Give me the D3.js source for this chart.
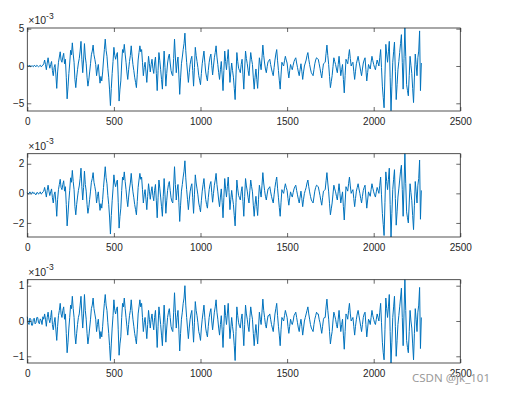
<!DOCTYPE html>
<html>
<head>
<meta charset="utf-8">
<script src="https://cdn.jsdelivr.net/npm/d3@7"></script>
<style>
  body { margin: 0; background: #fff; }
  svg { display: block; font-family: "Liberation Sans", Arial, sans-serif; }
  .tick text { fill: #262626; font-size: 10px; }
  .tick line { stroke: #262626; stroke-width: 0.7; }
</style>
</head>
<body>
<div id="chart"></div>
<script>
// samples read every 5 points off the picture, values in units of 1e-3
const sampleStep = 5

const seriesTop = [
  0.1, 0.0, 0.0, 0.1, -0.1, 0.0, 0.0, -0.1, 0.1, 0.0, -0.1, 0.1, 0.0, -0.1, 0.0, 0.1, -0.1, 0.0, 0.1, 0.3,
  0.8, 0.2, -0.5, 0.4, 1.1, 0.3, -0.3, 0.2, 0.6, -0.6, -1.3, -0.2, 0.2, -1.2, -3.0, -0.8, 0.5, 1.2, 1.9, 0.8,
  0.5, 1.2, 1.7, 0.3, 0.9, -1.5, -4.4, -2.8, -1.0, 0.4, 2.1, 1.5, 3.1, 1.6, 0.5, -1.8, -2.9, -1.5, -0.5, 0.4,
  1.0, 2.0, 3.3, 0.9, -0.9, 0.8, 3.0, 1.2, 0.3, -1.5, -2.7, -1.9, -0.8, 0.3, 1.5, 2.0, 2.8, 1.5, 0.9, 0.2,
  -1.3, -0.4, 0.2, -1.2, -2.3, -1.4, -2.0, -0.8, 0.8, 2.2, 3.6, 2.1, 1.3, -0.3, -1.5, -3.2, -5.3, -3.0, -1.0, 0.6,
  2.5, 1.4, 0.9, 1.5, 1.8, -1.2, -4.7, -3.1, -2.0, 0.4, 2.2, 1.8, 2.9, 1.6, 0.5, -0.8, -1.8, -0.5, 0.6, 1.4,
  2.7, 1.3, 0.2, -0.6, -1.5, -2.2, -2.9, -1.1, 0.8, 1.8, 2.7, 1.9, 2.2, 0.5, -1.3, -0.2, 0.5, -0.8, -2.2, -0.4,
  1.3, 0.3, -0.8, 0.2, 0.9, -0.3, -1.0, 0.4, 1.2, -1.0, -3.3, -0.6, 1.8, 0.7, -0.5, -1.8, -3.1, -0.4, 2.0, -0.2,
  -2.7, -1.0, 0.4, 1.2, 1.6, 0.4, -0.6, -1.1, -1.3, 1.0, 3.6, 1.2, -0.9, 0.4, 1.2, -1.2, -3.8, -1.6, 0.3, 1.2,
  2.2, 3.0, 4.4, 2.1, 0.5, -0.8, -2.2, -0.9, 0.2, 0.9, 1.3, -0.6, -2.7, -0.2, 2.5, 1.4, 0.6, -0.2, -1.3, -1.9,
  -2.5, -1.0, 0.3, 1.2, 2.0, 0.5, -0.8, -1.5, -2.0, -0.6, 0.5, 1.2, 1.6, 0.1, -1.2, 0.0, 1.1, 1.8, 2.7, 1.2,
  0.2, -0.9, -1.8, -0.5, 0.6, -1.2, -3.3, -0.6, 2.0, 0.6, -0.5, 0.9, 2.2, 0.1, -2.2, -0.8, 0.4, -0.6, -1.5, -3.0,
  -4.5, -1.2, 1.8, 0.6, -0.3, -0.6, -0.9, 0.2, 0.9, -1.1, -3.1, -0.4, 2.0, 1.0, 0.3, -0.6, -1.3, 0.4, 1.8, 0.9,
  0.2, -1.6, -3.1, -1.5, -0.4, -1.8, -3.0, -0.8, 1.1, 0.3, -0.5, 1.1, 2.8, 1.4, 0.4, -0.4, -0.9, -0.1, 0.6, 0.7,
  0.9, 0.2, -0.4, -0.9, -1.3, -0.2, 0.8, 1.6, 2.2, 0.7, -0.6, -1.9, -3.1, -1.2, 0.5, 0.2, 0.0, 0.7, 1.3, 0.8,
  0.4, -0.7, -1.6, -0.6, 0.2, -0.2, -0.5, 0.1, 0.6, 0.9, 1.1, 0.4, -0.2, -0.8, -1.3, -0.5, 0.3, -0.7, -1.8, -0.8,
  0.0, 0.4, 0.8, 1.4, 1.8, 0.9, 0.2, -0.4, -0.9, -1.1, -1.3, -0.5, 0.3, 0.8, 1.1, 1.0, 0.9, 0.3, -0.3, -1.0,
  -1.6, -0.6, 0.3, 0.4, 0.5, 1.7, 2.8, 1.4, 0.2, -1.4, -2.9, -2.1, -1.3, -0.1, 1.1, 0.6, 0.2, -0.4, -0.9, 0.2,
  1.3, 0.0, -1.3, -0.5, 0.2, -1.8, -3.6, -1.3, 0.9, 0.6, 0.3, 1.3, 2.2, 1.0, 0.0, 0.3, 0.5, -0.7, -1.8, -0.7,
  0.3, 0.8, 1.3, 0.6, 0.0, -0.7, -1.3, -0.4, 0.4, 0.8, 1.1, -0.5, -2.0, -0.9, 0.2, -0.1, -0.4, 0.5, 1.3, 0.7,
  0.2, -0.2, -0.5, 0.2, 0.8, 0.4, 0.0, 1.1, 2.2, -0.2, -2.7, -4.2, -5.6, -1.2, 2.9, 1.6, 0.5, 1.9, 3.3, -1.5,
  -6.0, -2.7, 0.5, 1.9, 3.2, -0.7, -4.5, -2.5, -0.5, 0.6, 1.8, 3.0, 4.2, 0.5, -3.1, 1.0, 5.1, 1.3, -2.5, -3.3,
  -4.0, -1.3, 1.3, 0.1, -1.0, -3.0, -4.9, -1.6, 1.6, 0.2, -1.3, 1.1, 2.0, 4.7, -3.3, 0.4
]

const seriesMid = [
  0.05, -0.05, 0.0, 0.1, 0.0, -0.05, 0.1, 0.0, 0.05, -0.05, -0.1, 0.05, 0.05, -0.05, 0.0, 0.1, -0.05, 0.0, 0.1, 0.15,
  0.4, 0.1, -0.25, 0.2, 0.55, 0.15, -0.15, 0.1, 0.3, -0.3, -0.65, -0.1, 0.1, -0.6, -1.55, -0.4, 0.25, 0.6, 0.95, 0.4,
  0.25, 0.6, 0.85, 0.15, 0.45, -0.75, -2.2, -1.4, -0.5, 0.2, 1.05, 0.75, 1.55, 0.8, 0.25, -0.9, -1.45, -0.75, -0.25, 0.2,
  0.5, 1.0, 1.7, 0.45, -0.45, 0.4, 1.5, 0.6, 0.15, -0.75, -1.35, -0.95, -0.4, 0.15, 0.75, 1.0, 1.4, 0.75, 0.45, 0.1,
  -0.65, -0.2, 0.1, -0.6, -1.15, -0.7, -1.0, -0.4, 0.4, 1.1, 1.8, 1.05, 0.65, -0.15, -0.75, -1.6, -2.75, -1.5, -0.5, 0.3,
  1.25, 0.7, 0.45, 0.75, 0.9, -0.6, -2.35, -1.55, -1.0, 0.2, 1.1, 0.9, 1.45, 0.8, 0.25, -0.4, -0.9, -0.25, 0.3, 0.7,
  1.35, 0.65, 0.1, -0.3, -0.75, -1.1, -1.45, -0.55, 0.4, 0.9, 1.35, 0.95, 1.1, 0.25, -0.65, -0.1, 0.25, -0.4, -1.1, -0.2,
  0.65, 0.15, -0.4, 0.1, 0.45, -0.15, -0.5, 0.2, 0.6, -0.5, -1.65, -0.3, 0.9, 0.35, -0.25, -0.9, -1.55, -0.2, 1.0, -0.1,
  -1.35, -0.5, 0.2, 0.6, 0.8, 0.2, -0.3, -0.55, -0.65, 0.5, 1.8, 0.6, -0.45, 0.2, 0.6, -0.6, -1.9, -0.8, 0.15, 0.6,
  1.1, 1.5, 2.2, 1.05, 0.25, -0.4, -1.1, -0.45, 0.1, 0.45, 0.65, -0.3, -1.35, -0.1, 1.25, 0.7, 0.3, -0.1, -0.65, -0.95,
  -1.25, -0.5, 0.15, 0.6, 1.0, 0.25, -0.4, -0.75, -1.0, -0.3, 0.25, 0.6, 0.8, 0.05, -0.6, 0.0, 0.55, 0.9, 1.35, 0.6,
  0.1, -0.45, -0.9, -0.25, 0.3, -0.6, -1.65, -0.3, 1.0, 0.3, -0.25, 0.45, 1.1, 0.05, -1.1, -0.4, 0.2, -0.3, -0.75, -1.5,
  -2.2, -0.6, 0.9, 0.3, -0.15, -0.3, -0.45, 0.1, 0.45, -0.55, -1.55, -0.2, 1.0, 0.5, 0.15, -0.3, -0.65, 0.2, 0.9, 0.45,
  0.1, -0.8, -1.55, -0.75, -0.2, -0.9, -1.5, -0.4, 0.55, 0.15, -0.25, 0.55, 1.4, 0.7, 0.2, -0.2, -0.45, -0.05, 0.3, 0.35,
  0.45, 0.1, -0.2, -0.45, -0.65, -0.1, 0.4, 0.8, 1.1, 0.35, -0.3, -0.95, -1.55, -0.6, 0.25, 0.1, 0.0, 0.35, 0.65, 0.4,
  0.2, -0.35, -0.8, -0.3, 0.1, -0.1, -0.25, 0.05, 0.3, 0.45, 0.55, 0.2, -0.1, -0.4, -0.65, -0.25, 0.15, -0.35, -0.9, -0.4,
  0.0, 0.2, 0.4, 0.7, 0.9, 0.45, 0.1, -0.2, -0.45, -0.55, -0.65, -0.25, 0.15, 0.4, 0.55, 0.5, 0.45, 0.15, -0.15, -0.5,
  -0.8, -0.3, 0.15, 0.2, 0.25, 0.85, 1.4, 0.7, 0.1, -0.7, -1.45, -1.05, -0.65, -0.05, 0.55, 0.3, 0.1, -0.2, -0.45, 0.1,
  0.65, 0.0, -0.65, -0.25, 0.1, -0.9, -1.8, -0.65, 0.45, 0.3, 0.15, 0.65, 1.1, 0.5, 0.0, 0.15, 0.25, -0.35, -0.9, -0.35,
  0.15, 0.4, 0.65, 0.3, 0.0, -0.35, -0.65, -0.2, 0.2, 0.4, 0.55, -0.25, -1.0, -0.45, 0.1, -0.05, -0.2, 0.25, 0.65, 0.35,
  0.1, -0.1, -0.25, 0.1, 0.4, 0.2, 0.0, 0.55, 1.1, -0.1, -1.35, -2.1, -2.85, -0.6, 1.45, 0.8, 0.25, 0.95, 1.7, -0.75,
  -2.95, -1.35, 0.25, 0.95, 1.6, -0.35, -2.15, -1.25, -0.25, 0.3, 0.9, 1.5, 1.9, 0.25, -1.55, 0.5, 2.68, 0.65, -1.25, -1.65,
  -2.0, -0.65, 0.65, 0.05, -0.5, -1.5, -2.45, -0.8, 0.8, 0.1, -0.65, 0.55, 1.0, 2.25, -1.75, 0.2
]

const seriesLow = [
  0.12, -0.05, -0.1, 0.08, 0.05, -0.12, -0.12, 0.05, 0.08, -0.08, -0.05, 0.1, 0.1, -0.05, -0.08, 0.06, 0.02, -0.1, 0.12, 0.05,
  0.2, 0.05, -0.15, 0.1, 0.25, 0.05, -0.05, 0.1, 0.3, -0.1, -0.25, -0.05, 0.1, -0.25, -0.55, -0.15, 0.15, 0.3, 0.5, 0.2,
  0.1, 0.3, 0.4, 0.05, 0.2, -0.35, -0.9, -0.6, -0.2, 0.1, 0.45, 0.35, 0.7, 0.35, 0.1, -0.4, -0.65, -0.35, -0.1, 0.1,
  0.2, 0.45, 0.7, 0.2, -0.2, 0.2, 0.75, 0.3, 0.05, -0.35, -0.65, -0.45, -0.2, 0.05, 0.35, 0.45, 0.65, 0.35, 0.2, 0.05,
  -0.3, -0.1, 0.05, -0.25, -0.5, -0.3, -0.45, -0.15, 0.2, 0.5, 0.75, 0.45, 0.3, -0.05, -0.35, -0.7, -1.12, -0.65, -0.2, 0.15,
  0.6, 0.3, 0.2, 0.35, 0.4, -0.25, -0.97, -0.65, -0.45, 0.1, 0.5, 0.4, 0.65, 0.35, 0.1, -0.15, -0.4, -0.1, 0.15, 0.3,
  0.6, 0.3, 0.05, -0.15, -0.35, -0.5, -0.65, -0.25, 0.2, 0.4, 0.6, 0.4, 0.5, 0.1, -0.3, -0.05, 0.1, -0.2, -0.5, -0.1,
  0.3, 0.05, -0.2, 0.05, 0.2, -0.05, -0.25, 0.1, 0.3, -0.2, -0.75, -0.15, 0.4, 0.15, -0.1, -0.4, -0.7, -0.1, 0.45, -0.05,
  -0.6, -0.2, 0.1, 0.25, 0.35, 0.1, -0.15, -0.25, -0.3, 0.25, 0.8, 0.25, -0.2, 0.1, 0.3, -0.25, -0.85, -0.35, 0.05, 0.25,
  0.5, 0.65, 1.0, 0.45, 0.1, -0.2, -0.5, -0.2, 0.05, 0.2, 0.3, -0.15, -0.6, -0.05, 0.55, 0.3, 0.15, -0.05, -0.3, -0.4,
  -0.55, -0.2, 0.05, 0.25, 0.45, 0.1, -0.2, -0.35, -0.45, -0.15, 0.1, 0.25, 0.35, 0.0, -0.25, 0.0, 0.25, 0.4, 0.6, 0.25,
  0.05, -0.2, -0.4, -0.1, 0.15, -0.25, -0.75, -0.15, 0.45, 0.15, -0.1, 0.2, 0.5, 0.0, -0.5, -0.2, 0.1, -0.15, -0.35, -0.7,
  -1.12, -0.3, 0.4, 0.15, -0.05, -0.15, -0.2, 0.05, 0.2, -0.25, -0.7, -0.1, 0.45, 0.2, 0.05, -0.15, -0.3, 0.1, 0.4, 0.2,
  0.05, -0.35, -0.7, -0.35, -0.1, -0.4, -0.65, -0.2, 0.25, 0.05, -0.1, 0.25, 0.62, 0.3, 0.1, -0.1, -0.2, 0.0, 0.15, 0.15,
  0.2, 0.05, -0.1, -0.2, -0.3, -0.05, 0.2, 0.35, 0.5, 0.15, -0.15, -0.4, -0.7, -0.25, 0.1, 0.05, 0.0, 0.15, 0.3, 0.2,
  0.1, -0.15, -0.35, -0.15, 0.05, -0.05, -0.1, 0.0, 0.15, 0.2, 0.25, 0.1, -0.05, -0.2, -0.3, -0.1, 0.05, -0.15, -0.4, -0.2,
  0.0, 0.1, 0.2, 0.3, 0.4, 0.2, 0.05, -0.1, -0.2, -0.25, -0.3, -0.1, 0.05, 0.15, 0.25, 0.2, 0.2, 0.05, -0.05, -0.2,
  -0.35, -0.15, 0.05, 0.1, 0.1, 0.4, 0.62, 0.3, 0.05, -0.3, -0.65, -0.45, -0.3, 0.0, 0.25, 0.15, 0.05, -0.1, -0.2, 0.05,
  0.3, 0.0, -0.3, -0.1, 0.05, -0.4, -0.8, -0.3, 0.2, 0.15, 0.05, 0.3, 0.5, 0.2, 0.0, 0.05, 0.1, -0.15, -0.4, -0.15,
  0.05, 0.2, 0.3, 0.15, 0.0, -0.15, -0.3, -0.1, 0.1, 0.2, 0.25, -0.1, -0.45, -0.2, 0.05, 0.0, -0.1, 0.1, 0.3, 0.15,
  0.05, -0.05, -0.1, 0.05, 0.2, 0.1, 0.0, 0.25, 0.5, -0.05, -0.6, -0.9, -1.1, -0.25, 0.65, 0.35, 0.1, 0.4, 0.75, -0.3,
  -1.19, -0.6, 0.1, 0.4, 0.7, -0.15, -1.0, -0.55, -0.1, 0.15, 0.4, 0.65, 0.93, 0.1, -0.7, 0.2, 1.17, 0.3, -0.55, -0.75,
  -0.9, -0.3, 0.3, 0.0, -0.2, -0.65, -1.1, -0.35, 0.35, 0.05, -0.3, 0.25, 0.45, 0.95, -0.78, 0.1
]

const xTicks = [0, 500, 1000, 1500, 2000, 2500]
const yTicksTop = [-5, 0, 5]
const yTicksMid = [-2, 0, 2]
const yTicksLow = [-1, 0, 1]
const exponentLabel = ["\u00d710", "-3"]

let width = 507, height = 394
let left = 27.3, right = 460.3

let svg = d3.select("#chart").append("svg")
  .attr("width", width)
  .attr("height", height)

svg.append("rect").attr("width", width).attr("height", height).attr("fill", "#fff")

let xScale = d3.scaleLinear().domain([0, 2500]).range([left, right])
let fmt = d3.format("d")

// one panel per subplot, limits follow the tight MATLAB axes
let panels = [
  {values: seriesTop, yDomain: [-6.03, 5.09], ticks: yTicksTop, top: 28, bottom: 111},
  {values: seriesMid, yDomain: [-2.95, 2.68], ticks: yTicksMid, top: 153.7, bottom: 237},
  {values: seriesLow, yDomain: [-1.19, 1.17], ticks: yTicksLow, top: 279.7, bottom: 363}
]

panels.forEach(function(p) {
  let yScale = d3.scaleLinear().domain(p.yDomain).range([p.bottom, p.top])
  let g = svg.append("g")

  // data line
  let line = d3.line()
    .x(function(d, i) { return xScale(i * sampleStep) })
    .y(function(d) { return yScale(d) })

  g.append("path")
    .datum(p.values)
    .attr("fill", "none")
    .attr("stroke", "#0072BD")
    .attr("stroke-width", 1)
    .attr("stroke-linejoin", "round")
    .attr("d", line)

  // axes with inward ticks on all four sides
  g.append("g")
    .attr("transform", "translate(0," + p.bottom + ")")
    .call(d3.axisBottom(xScale).tickValues(xTicks).tickFormat(fmt).tickSizeInner(-4).tickSizeOuter(0).tickPadding(6.5))
  g.append("g")
    .attr("transform", "translate(0," + p.top + ")")
    .call(d3.axisTop(xScale).tickValues(xTicks).tickSizeInner(-4).tickSizeOuter(0).tickFormat(""))
  g.append("g")
    .attr("transform", "translate(" + left + ",0)")
    .call(d3.axisLeft(yScale).tickValues(p.ticks).tickFormat(fmt).tickSizeInner(-4).tickSizeOuter(0).tickPadding(3))
  g.append("g")
    .attr("transform", "translate(" + right + ",0)")
    .call(d3.axisRight(yScale).tickValues(p.ticks).tickSizeInner(-4).tickSizeOuter(0).tickFormat(""))

  g.selectAll(".domain").remove()
  g.selectAll(".tick text").attr("font-family", null).attr("font-size", null)

  g.append("rect")
    .attr("x", left)
    .attr("y", p.top)
    .attr("width", right - left)
    .attr("height", p.bottom - p.top)
    .attr("fill", "none")
    .attr("stroke", "#262626")
    .attr("stroke-width", 0.8)

  // x10^-3 exponent label
  let ex = g.append("text")
    .attr("x", left + 1)
    .attr("y", p.top - 4)
    .attr("fill", "#262626")
    .attr("font-size", 10.5)
  ex.append("tspan").text(exponentLabel[0])
  ex.append("tspan").attr("dy", -5.5).attr("font-size", 8.5).text(exponentLabel[1])
})

svg.append("text")
  .attr("x", 412)
  .attr("y", 381.5)
  .attr("fill", "#9a9a9a")
  .attr("font-size", 11.5)
  .attr("font-family", "'Noto Sans', 'Liberation Sans', sans-serif")
  .text("CSDN @jk_101")
</script>
</body>
</html>
